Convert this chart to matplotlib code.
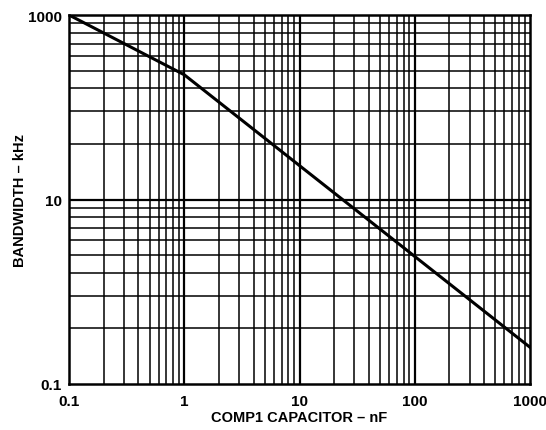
import numpy as np
import matplotlib.pyplot as plt
from matplotlib.ticker import FixedLocator, NullFormatter, NullLocator

plt.rcParams['font.family'] = ['Liberation Sans', 'DejaVu Sans']
plt.rcParams['font.weight'] = 'bold'

# curve (nF, kHz)
cap_nf = [0.1, 1.0, 1000.0]
bw_khz = [1000.0, 225.0, 0.25]

x_ticks = [0.1, 1, 10, 100, 1000]
x_labels = ['0.1', '1', '10', '100', '1000']
y_ticks = [0.1, 10, 1000]
y_labels = ['0.1', '10', '1000']

fig = plt.figure(figsize=(5.46, 4.31), dpi=100)
ax = fig.add_axes([69/546, 1-385/431, (530-69)/546, (385-16)/431])

ax.set_xscale('log')
ax.set_yscale('log')
ax.set_xlim(0.1, 1000)
ax.set_ylim(0.1, 1000)

# x grid: normal log decades
for dec in [0.1, 1, 10, 100]:
    for k in range(2, 10):
        ax.axvline(dec*k, color='black', lw=1.1, zorder=1)
for v in [1, 10, 100]:
    ax.axvline(v, color='black', lw=1.6, zorder=1)

# y grid: each labelled step is x100, lines drawn like one decade
for base in [0.1, 10]:
    for k in range(2, 10):
        ax.axhline(base*k*k, color='black', lw=1.1, zorder=1)
ax.axhline(10, color='black', lw=1.6, zorder=1)

ax.plot(cap_nf, bw_khz, color='black', lw=2.2, zorder=3)

ax.xaxis.set_major_locator(FixedLocator(x_ticks))
ax.xaxis.set_minor_locator(NullLocator())
ax.xaxis.set_minor_formatter(NullFormatter())
ax.set_xticklabels(x_labels)
ax.yaxis.set_major_locator(FixedLocator(y_ticks))
ax.yaxis.set_minor_locator(NullLocator())
ax.yaxis.set_minor_formatter(NullFormatter())
ax.set_yticklabels(y_labels)
ax.tick_params(axis='y', length=0, labelsize=11, pad=5)
ax.tick_params(axis='x', length=0, labelsize=11, pad=7)
for lab in ax.get_xticklabels() + ax.get_yticklabels():
    lab.set_fontweight('bold')

for s in ax.spines.values():
    s.set_linewidth(1.8)

ax.set_xlabel('COMP1 CAPACITOR – nF', fontsize=10.5, fontweight='bold', labelpad=2)
ax.set_ylabel('BANDWIDTH – kHz', fontsize=10.5, fontweight='bold', labelpad=1)

fig.savefig('out.png', dpi=100)
